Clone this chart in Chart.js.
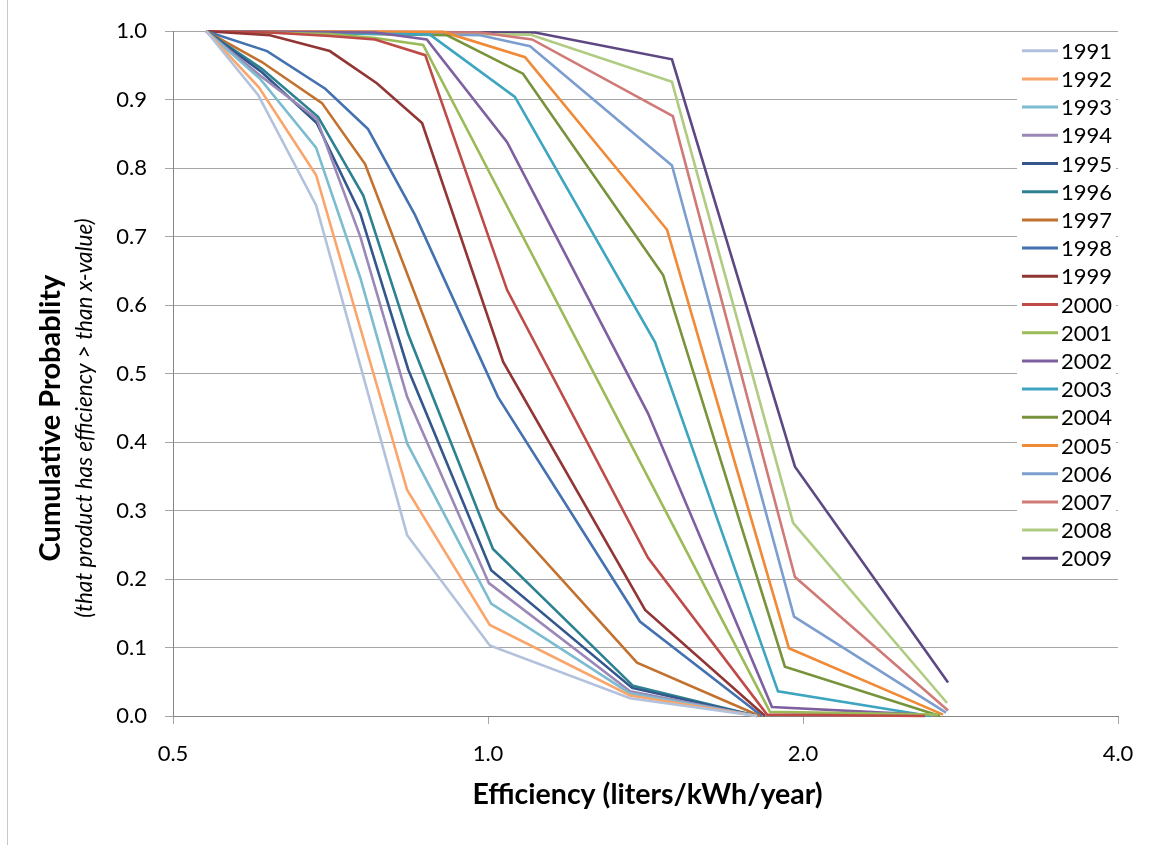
<!DOCTYPE html>
<html>
<head>
<meta charset="utf-8">
<script src="https://cdn.jsdelivr.net/npm/chart.js@4.4.0/dist/chart.umd.min.js"></script>
<style>
  html, body { margin: 0; padding: 0; background: #fff; }
  #wrap { position: relative; width: 1161px; height: 845px; }
  #edge { position: absolute; left: 7px; top: 0; width: 1px; height: 845px; background: #c8c8c8; }
</style>
</head>
<body>
<div id="wrap">
  <canvas id="effChart" width="1161" height="845"></canvas>
  <div id="edge"></div>
</div>
<script>
// efficiency (x, liters/kWh/year) and cumulative probability (y) per model year
const years = ['1991', '1992', '1993', '1994', '1995', '1996', '1997', '1998', '1999', '2000',
               '2001', '2002', '2003', '2004', '2005', '2006', '2007', '2008', '2009'];

const x1991 = [0.538, 0.603, 0.685, 0.837, 1.004, 1.367, 1.808];
const y1991 = [1.0, 0.907, 0.746, 0.264, 0.103, 0.026, 0];
const x1992 = [0.538, 0.604, 0.685, 0.837, 1.004, 1.367, 1.808];
const y1992 = [1.0, 0.918, 0.79, 0.33, 0.133, 0.03, 0];
const x1993 = [0.538, 0.606, 0.685, 0.755, 0.837, 1.007, 1.367, 1.808];
const y1993 = [1.0, 0.93, 0.83, 0.64, 0.398, 0.164, 0.033, 0];
const x1994 = [0.538, 0.606, 0.686, 0.755, 0.837, 1.002, 1.367, 1.808];
const y1994 = [1.0, 0.935, 0.872, 0.70, 0.466, 0.194, 0.036, 0];
const x1995 = [0.538, 0.608, 0.686, 0.755, 0.839, 1.007, 1.373, 1.808];
const y1995 = [1.0, 0.94, 0.866, 0.734, 0.506, 0.213, 0.041, 0];
const x1996 = [0.538, 0.608, 0.688, 0.760, 0.839, 1.011, 1.376, 1.808];
const y1996 = [1.0, 0.945, 0.875, 0.76, 0.557, 0.244, 0.044, 0];
const x1997 = [0.538, 0.608, 0.694, 0.763, 1.020, 1.388, 1.819];
const y1997 = [1.0, 0.955, 0.895, 0.806, 0.304, 0.078, 0];
const x1998 = [0.538, 0.615, 0.699, 0.768, 0.852, 1.022, 1.397, 1.827];
const y1998 = [1.0, 0.971, 0.916, 0.857, 0.731, 0.466, 0.138, 0];
const x1999 = [0.538, 0.619, 0.706, 0.783, 0.865, 1.034, 1.413, 1.840];
const y1999 = [1.0, 0.994, 0.971, 0.924, 0.866, 0.517, 0.155, 0];
const x2000 = [0.538, 0.619, 0.706, 0.780, 0.871, 1.043, 1.422, 1.848, 2.616];
const y2000 = [1.0, 0.998, 0.993, 0.988, 0.965, 0.622, 0.231, 0.002, 0];
const x2001 = [0.538, 0.706, 0.780, 0.867, 1.860, 2.692];
const y2001 = [1.0, 0.996, 0.99, 0.98, 0.006, 0.002];
const x2002 = [0.538, 0.780, 0.874, 1.043, 1.422, 1.868, 2.605];
const y2002 = [1.0, 0.998, 0.988, 0.838, 0.442, 0.013, 0.002];
const x2003 = [0.538, 0.880, 1.061, 1.444, 1.893, 2.645];
const y2003 = [1.0, 0.995, 0.904, 0.546, 0.036, 0];
const x2004 = [0.538, 0.914, 1.080, 1.470, 1.922, 2.704];
const y2004 = [1.0, 0.994, 0.938, 0.644, 0.072, 0];
const x2005 = [0.538, 0.906, 1.085, 1.483, 1.939, 2.722];
const y2005 = [1.0, 0.999, 0.962, 0.71, 0.099, 0.002];
const x2006 = [0.538, 0.983, 1.097, 1.499, 1.961, 2.740];
const y2006 = [1.0, 0.994, 0.978, 0.804, 0.145, 0.005];
const x2007 = [0.538, 0.983, 1.102, 1.502, 1.965, 2.752];
const y2007 = [1.0, 0.998, 0.988, 0.876, 0.203, 0.008];
const x2008 = [0.538, 1.097, 1.499, 1.957, 2.746];
const y2008 = [1.0, 0.995, 0.926, 0.282, 0.019];
const x2009 = [0.538, 1.109, 1.499, 1.965, 2.752];
const y2009 = [1.0, 0.998, 0.959, 0.364, 0.049];

const xTicks = [0.5, 1.0, 2.0, 4.0];
const yTicks = [0, 0.1, 0.2, 0.3, 0.4, 0.5, 0.6, 0.7, 0.8, 0.9, 1.0];

const xTitle = 'Efficiency (liters/kWh/year)';
const yTitle = 'Cumulative Probablity';
const ySubTitle = '(that product has efficiency > than x-value)';

const xSeries = [x1991, x1992, x1993, x1994, x1995, x1996, x1997, x1998, x1999, x2000,
                 x2001, x2002, x2003, x2004, x2005, x2006, x2007, x2008, x2009];
const ySeries = [y1991, y1992, y1993, y1994, y1995, y1996, y1997, y1998, y1999, y2000,
                 y2001, y2002, y2003, y2004, y2005, y2006, y2007, y2008, y2009];

const colors = ['#b3c2dc', '#f9a56c', '#7dbcd0', '#9b88b6', '#33568c', '#2d8291', '#c2712f',
                '#4472b0', '#923535', '#be4b48', '#9bbb59', '#7e5fa0', '#3ea5c0', '#77933c',
                '#f08a37', '#7c9ecf', '#cf7a77', '#b0cb82', '#5e4884'];

const FONT = 'Lato, "Open Sans", sans-serif';

const datasets = years.map((yr, i) => ({
    label: yr,
    data: xSeries[i].map((x, j) => ({ x: x, y: ySeries[i][j] })),
    borderColor: colors[i],
    backgroundColor: colors[i],
    borderWidth: 2.6,
    pointRadius: 0,
    tension: 0,
    fill: false,
    clip: false
}));

// axis titles and the legend box that sits over the plot area
const overlay = {
    id: 'overlay',
    afterDraw(chart) {
        const ctx = chart.ctx;
        const area = chart.chartArea;
        ctx.save();
        ctx.fillStyle = '#000';
        ctx.textAlign = 'center';
        ctx.textBaseline = 'middle';
        ctx.font = 'bold 28.5px ' + FONT;
        ctx.fillText(xTitle, (area.left + area.right) / 2 + 2, 795);

        ctx.save();
        ctx.translate(51, 418);
        ctx.rotate(-Math.PI / 2);
        ctx.font = 'bold 29px ' + FONT;
        ctx.fillText(yTitle, 0, 0);
        ctx.font = 'italic 22.5px ' + FONT;
        ctx.fillText(ySubTitle, 0, 34);
        ctx.restore();

        // legend
        ctx.fillStyle = '#fff';
        ctx.fillRect(1017, 33, 99, 540);
        ctx.font = '22px ' + FONT;
        ctx.textAlign = 'left';
        chart.data.datasets.forEach((ds, i) => {
            const y = 50.7 + i * 28.2;
            ctx.strokeStyle = ds.borderColor;
            ctx.lineWidth = 3;
            ctx.beginPath();
            ctx.moveTo(1022, y);
            ctx.lineTo(1058, y);
            ctx.stroke();
            ctx.fillStyle = '#000';
            ctx.fillText(ds.label, 1061, y + 1);
        });
        ctx.restore();
    }
};

new Chart(document.getElementById('effChart'), {
    type: 'line',
    data: { datasets: datasets },
    plugins: [overlay],
    options: {
        responsive: false,
        animation: false,
        layout: { padding: { top: 31, right: 43, left: 0, bottom: 0 } },
        plugins: {
            legend: { display: false },
            tooltip: { enabled: false }
        },
        scales: {
            x: {
                type: 'logarithmic',
                min: 0.5,
                max: 4,
                afterBuildTicks: s => { s.ticks = xTicks.map(v => ({ value: v })); },
                afterFit: s => { s.height = 129; },
                ticks: {
                    callback: v => Number(v).toFixed(1),
                    font: { family: FONT, size: 22 },
                    color: '#000',
                    padding: 17,
                    maxRotation: 0,
                    autoSkip: false
                },
                grid: { drawOnChartArea: false, tickLength: 8, color: '#a6a6a6' },
                border: { color: '#868686' }
            },
            y: {
                min: 0,
                max: 1,
                afterBuildTicks: s => { s.ticks = yTicks.map(v => ({ value: v })); },
                afterFit: s => { s.width = 173; },
                ticks: {
                    callback: v => Number(v).toFixed(1),
                    font: { family: FONT, size: 22 },
                    color: '#000',
                    padding: 18
                },
                grid: { color: '#a6a6a6', tickLength: 8, tickColor: '#a6a6a6' },
                border: { color: '#868686' }
            }
        }
    }
});
</script>
</body>
</html>
